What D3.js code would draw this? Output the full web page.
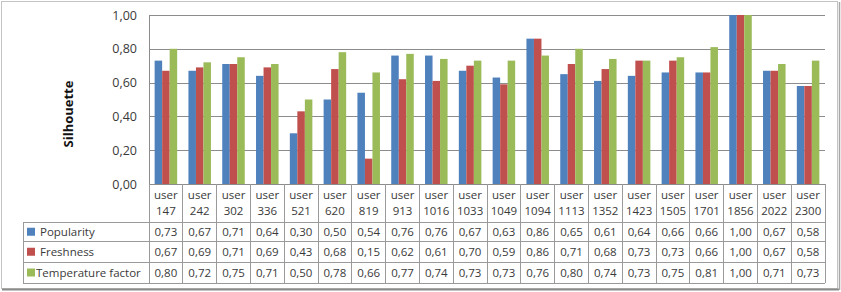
<!DOCTYPE html>
<html><head><meta charset="utf-8">
<script src="https://cdn.jsdelivr.net/npm/d3@7"></script>
<style>html,body{margin:0;padding:0;background:#fff;}svg{display:block;}</style>
</head><body>
<script>
const users = ["147","242","302","336","521","620","819","913","1016","1033","1049","1094","1113","1352","1423","1505","1701","1856","2022","2300"];
const seriesNames = ["Popularity","Freshness","Temperature factor"];
const popularity = [0.73,0.67,0.71,0.64,0.30,0.50,0.54,0.76,0.76,0.67,0.63,0.86,0.65,0.61,0.64,0.66,0.66,1.00,0.67,0.58];
const freshness = [0.67,0.69,0.71,0.69,0.43,0.68,0.15,0.62,0.61,0.70,0.59,0.86,0.71,0.68,0.73,0.73,0.66,1.00,0.67,0.58];
const temperature = [0.80,0.72,0.75,0.71,0.50,0.78,0.66,0.77,0.74,0.73,0.73,0.76,0.80,0.74,0.73,0.75,0.81,1.00,0.71,0.73];
const yTicks = [0,0.2,0.4,0.6,0.8,1.0];
const colors = ["#4F81BD","#C0504D","#9BBB59"];
const series = [popularity, freshness, temperature];

const W = 841, H = 292;
const pLeft = 149, pRight = 825, pTop = 15, pBottom = 184;
const rowBounds = [222, 241.5, 262, 283];
const tableLeft = 23;
const fmt = v => d3.format(".2f")(v).replace(".", ",");
const font = "'Open Sans', sans-serif";
const textCol = "#3a3a3a";
const lineCol = "#9a9a9a";

const svg = d3.select("body").append("svg").attr("width", W).attr("height", H);

// outer frame
svg.append("rect").attr("x",1.5).attr("y",1.5).attr("width",836).attr("height",287)
  .attr("fill","#fff").attr("stroke","#c4c4c4");
svg.append("line").attr("x1",2).attr("x2",839).attr("y1",289.5).attr("y2",289.5).attr("stroke","#8a8a8a").attr("stroke-width",2);
svg.append("line").attr("x1",839.5).attr("x2",839.5).attr("y1",2).attr("y2",290).attr("stroke","#a8a8a8").attr("stroke-width",1.5);

const x = d3.scaleBand().domain(users).range([pLeft, pRight]).padding(0);
const cw = x.bandwidth();
const bw = cw / 4.5;
const xs = d3.scaleBand().domain(d3.range(3)).range([0.75*bw, cw - 0.75*bw]).padding(0);
const y = d3.scaleLinear().domain([0,1]).range([pBottom, pTop]);

// gridlines
svg.append("g").selectAll("line").data(yTicks).join("line")
  .attr("x1", pLeft).attr("x2", pRight)
  .attr("y1", d => Math.round(y(d)) + 0.5).attr("y2", d => Math.round(y(d)) + 0.5)
  .attr("stroke", "#8c8c8c");
svg.append("line").attr("x1", pLeft + 0.5).attr("x2", pLeft + 0.5).attr("y1", pTop).attr("y2", pBottom)
  .attr("stroke", "#8c8c8c");

// y axis labels
const yAxis = d3.axisLeft(y).tickValues(yTicks).tickFormat(fmt).tickSize(0).tickPadding(12);
const ya = svg.append("g").attr("transform", `translate(${pLeft},0)`).call(yAxis);
ya.select(".domain").remove();
ya.selectAll("text").attr("font-family", font).attr("font-size", 12.5).attr("fill", textCol);

// y title
svg.append("text").attr("transform", "translate(73,114) rotate(-90)")
  .attr("text-anchor","middle").attr("font-family", font).attr("font-weight","bold")
  .attr("font-size", 13).attr("fill", "#111").text("Silhouette");

// bars
const groups = svg.append("g").selectAll("g").data(users).join("g")
  .attr("transform", d => `translate(${x(d)},0)`);
groups.selectAll("rect").data((d,i) => series.map((s,k) => ({k, v: s[i]}))).join("rect")
  .attr("x", d => xs(d.k)).attr("width", xs.bandwidth())
  .attr("y", d => y(d.v)).attr("height", d => y(0) - y(d.v))
  .attr("fill", d => colors[d.k]);

// table lines
const tl = svg.append("g").attr("stroke", lineCol).attr("shape-rendering","crispEdges");
users.concat(["__end"]).forEach((u,i) => {
  const xx = i < users.length ? x(u) : pRight;
  tl.append("line").attr("x1", xx).attr("x2", xx).attr("y1", pBottom).attr("y2", rowBounds[3]);
});
tl.append("line").attr("x1", tableLeft).attr("x2", tableLeft).attr("y1", rowBounds[0]).attr("y2", rowBounds[3]);
rowBounds.forEach(r => tl.append("line").attr("x1", tableLeft).attr("x2", pRight).attr("y1", r).attr("y2", r));

// header labels
const hdr = svg.append("g").attr("font-family", font).attr("font-size", 11.5).attr("fill", textCol).attr("text-anchor","middle");
users.forEach(u => {
  hdr.append("text").attr("x", x(u) + cw/2).attr("y", 199).text("user");
  hdr.append("text").attr("x", x(u) + cw/2).attr("y", 215).text(u);
});

// legend rows + values
const tb = svg.append("g").attr("font-family", font).attr("font-size", 11.5).attr("fill", textCol);
seriesNames.forEach((name, k) => {
  const cy = (rowBounds[k] + rowBounds[k+1]) / 2;
  tb.append("rect").attr("x", 27).attr("y", cy - 4).attr("width", 8).attr("height", 8).attr("fill", colors[k]);
  tb.append("text").attr("x", k === 2 ? 36 : 40).attr("y", cy + 4).text(name);
  users.forEach((u,i) => {
    tb.append("text").attr("x", x(u) + cw/2).attr("y", cy + 4).attr("text-anchor","middle").text(fmt(series[k][i]));
  });
});
</script>
</body></html>
